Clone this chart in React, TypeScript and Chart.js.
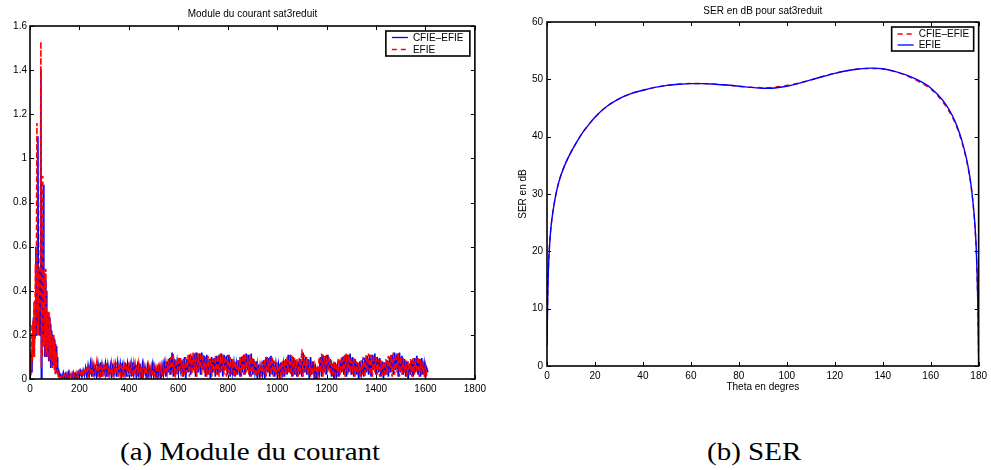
import React, { useEffect, useRef } from "react";
import { Chart, registerables } from "chart.js";

Chart.register(...registerables);

// ---------- Data: Module du courant ----------
const EARLY_STEP = 2; // indices 0..120
const LATE_START = 125;
const LATE_STEP = 5; // indices 125..1610

const cfieEarly = [
  0.02, 0.1, 0.05, 0.13, 0.03, 0.2, 0.1, 0.28, 0.12, 0.25,
  0.18, 0.32, 0.6, 0.2, 0.45, 0.25, 1.1, 0.3, 0.48, 0.2,
  0.5, 0.25, 1.4, 0.0, 0.3, 0.15, 0.5, 0.88, 0.2, 0.45,
  0.1, 0.45, 0.15, 0.4, 0.1, 0.3, 0.12, 0.3, 0.08, 0.28,
  0.1, 0.25, 0.05, 0.22, 0.08, 0.2, 0.06, 0.19, 0.08, 0.18,
  0.05, 0.16, 0.1, 0.15, 0.03, 0.1, 0.02, 0.04, 0.01, 0.03,
  0.02
];
const efieEarly = [
  0.12, 0.03, 0.1, 0.04, 0.25, 0.08, 0.27, 0.15, 0.35, 0.1,
  0.3, 0.52, 0.2, 0.5, 1.16, 0.3, 0.52, 0.2, 0.5, 0.3,
  0.45, 0.6, 1.53, 0.05, 0.35, 0.1, 0.92, 0.3, 0.5, 0.15,
  0.48, 0.1, 0.5, 0.12, 0.31, 0.1, 0.3, 0.15, 0.31, 0.08,
  0.28, 0.1, 0.22, 0.06, 0.2, 0.05, 0.19, 0.08, 0.2, 0.04,
  0.17, 0.02, 0.15, 0.05, 0.12, 0.02, 0.04, 0.01, 0.03, 0.005,
  0.02
];

const cfieLate = [
  0.02, 0.005, 0.03, 0.01, 0.025, 0.0, 0.03, 0.01, 0.02, 0.005, 0.03, 0.01, 0.025, 0.005, 0.03, 0.01, 0.035, 0.01, 0.04, 0.015,
  0.05, 0.01, 0.06, 0.02, 0.07, 0.01, 0.065, 0.02, 0.05, 0.01, 0.07, 0.02, 0.075, 0.01, 0.06, 0.03, 0.07, 0.01, 0.065, 0.02,
  0.06, 0.005, 0.07, 0.02, 0.065, 0.01, 0.075, 0.03, 0.07, 0.01, 0.06, 0.02, 0.075, 0.01, 0.07, 0.03, 0.065, 0.01, 0.075, 0.02,
  0.065, 0.01, 0.06, 0.02, 0.07, 0.0, 0.065, 0.02, 0.055, 0.01, 0.06, 0.02, 0.05, 0.01, 0.065, 0.015, 0.055, 0.01, 0.05, 0.02,
  0.055, 0.0, 0.06, 0.02, 0.07, 0.01, 0.08, 0.03, 0.095, 0.02, 0.12, 0.01, 0.09, 0.03, 0.08, 0.02, 0.095, 0.04, 0.085, 0.01,
  0.1, 0.0, 0.09, 0.03, 0.11, 0.02, 0.105, 0.04, 0.115, 0.01, 0.12, 0.03, 0.115, 0.02, 0.12, 0.04, 0.105, 0.01, 0.11, 0.02,
  0.09, 0.0, 0.1, 0.03, 0.095, 0.01, 0.105, 0.02, 0.11, 0.03, 0.115, 0.01, 0.11, 0.04, 0.105, 0.02, 0.11, 0.01, 0.09, 0.03,
  0.075, 0.01, 0.07, 0.02, 0.085, 0.01, 0.1, 0.03, 0.11, 0.02, 0.115, 0.04, 0.11, 0.01, 0.115, 0.02, 0.09, 0.03, 0.08, 0.0,
  0.065, 0.01, 0.06, 0.02, 0.085, 0.0, 0.1, 0.03, 0.095, 0.01, 0.105, 0.02, 0.085, 0.01, 0.07, 0.02, 0.065, 0.0, 0.075, 0.02,
  0.07, 0.01, 0.09, 0.02, 0.11, 0.03, 0.11, 0.01, 0.1, 0.02, 0.085, 0.01, 0.08, 0.02, 0.09, 0.01, 0.12, 0.03, 0.1, 0.02,
  0.09, 0.0, 0.1, 0.02, 0.08, 0.01, 0.05, 0.0, 0.045, 0.02, 0.1, 0.01, 0.11, 0.03, 0.105, 0.02, 0.11, 0.04, 0.09, 0.01,
  0.07, 0.0, 0.075, 0.02, 0.065, 0.01, 0.085, 0.03, 0.1, 0.02, 0.11, 0.01, 0.11, 0.03, 0.115, 0.02, 0.1, 0.01, 0.09, 0.02,
  0.075, 0.0, 0.08, 0.02, 0.07, 0.01, 0.095, 0.03, 0.105, 0.02, 0.11, 0.01, 0.11, 0.04, 0.115, 0.02, 0.1, 0.03, 0.095, 0.01,
  0.08, 0.0, 0.075, 0.02, 0.085, 0.01, 0.1, 0.03, 0.11, 0.02, 0.12, 0.04, 0.115, 0.01, 0.12, 0.03, 0.105, 0.02, 0.09, 0.01,
  0.08, 0.0, 0.07, 0.02, 0.085, 0.01, 0.095, 0.03, 0.105, 0.02, 0.09, 0.01, 0.095, 0.02, 0.07, 0.01, 0.05, 0.03
];
const efieLate = [
  0.005, 0.025, 0.01, 0.03, 0.005, 0.025, 0.01, 0.03, 0.0, 0.025, 0.01, 0.03, 0.005, 0.03, 0.01, 0.035, 0.015, 0.045, 0.01, 0.05,
  0.02, 0.06, 0.01, 0.065, 0.02, 0.07, 0.01, 0.06, 0.03, 0.075, 0.01, 0.07, 0.02, 0.065, 0.01, 0.07, 0.02, 0.075, 0.01, 0.06,
  0.02, 0.07, 0.01, 0.065, 0.02, 0.075, 0.01, 0.07, 0.02, 0.075, 0.01, 0.065, 0.02, 0.07, 0.01, 0.075, 0.02, 0.07, 0.01, 0.07,
  0.02, 0.065, 0.01, 0.07, 0.02, 0.06, 0.01, 0.065, 0.02, 0.055, 0.01, 0.06, 0.02, 0.055, 0.01, 0.06, 0.02, 0.05, 0.01, 0.055,
  0.02, 0.06, 0.01, 0.065, 0.02, 0.075, 0.03, 0.09, 0.02, 0.1, 0.03, 0.115, 0.01, 0.09, 0.02, 0.1, 0.03, 0.095, 0.01, 0.09,
  0.02, 0.1, 0.03, 0.11, 0.01, 0.115, 0.02, 0.12, 0.03, 0.12, 0.01, 0.115, 0.04, 0.12, 0.02, 0.11, 0.03, 0.1, 0.01, 0.105,
  0.02, 0.095, 0.01, 0.09, 0.03, 0.105, 0.02, 0.11, 0.01, 0.115, 0.03, 0.11, 0.02, 0.105, 0.01, 0.11, 0.03, 0.1, 0.02, 0.09,
  0.01, 0.08, 0.02, 0.085, 0.03, 0.1, 0.01, 0.11, 0.02, 0.115, 0.03, 0.11, 0.02, 0.11, 0.01, 0.1, 0.02, 0.085, 0.01, 0.07,
  0.02, 0.06, 0.01, 0.08, 0.02, 0.09, 0.01, 0.1, 0.03, 0.1, 0.02, 0.1, 0.01, 0.08, 0.02, 0.075, 0.01, 0.07, 0.02, 0.08,
  0.01, 0.085, 0.02, 0.1, 0.03, 0.11, 0.02, 0.105, 0.01, 0.095, 0.02, 0.09, 0.01, 0.1, 0.02, 0.135, 0.01, 0.11, 0.03, 0.1,
  0.02, 0.085, 0.01, 0.075, 0.02, 0.06, 0.01, 0.055, 0.02, 0.1, 0.03, 0.115, 0.01, 0.105, 0.02, 0.11, 0.03, 0.1, 0.02, 0.085,
  0.01, 0.08, 0.02, 0.07, 0.01, 0.09, 0.02, 0.1, 0.03, 0.11, 0.01, 0.115, 0.02, 0.11, 0.03, 0.1, 0.02, 0.095, 0.01, 0.08,
  0.02, 0.075, 0.01, 0.085, 0.02, 0.1, 0.01, 0.11, 0.03, 0.115, 0.02, 0.11, 0.01, 0.11, 0.03, 0.1, 0.02, 0.09, 0.01, 0.085,
  0.02, 0.08, 0.01, 0.09, 0.02, 0.105, 0.03, 0.11, 0.01, 0.12, 0.02, 0.115, 0.03, 0.115, 0.01, 0.1, 0.02, 0.095, 0.03, 0.085,
  0.01, 0.08, 0.02, 0.09, 0.01, 0.1, 0.02, 0.095, 0.03, 0.1, 0.01, 0.09, 0.02, 0.08, 0.01, 0.06, 0.02, 0.035
];

const courantXTicks = [0, 200, 400, 600, 800, 1000, 1200, 1400, 1600, 1800];
const courantYTicks = [0, 0.2, 0.4, 0.6, 0.8, 1, 1.2, 1.4, 1.6];

// ---------- Data: SER ----------
const theta = [0, 0.3, 0.6, 1, 1.5, 2, 3, 4, 5, 6, 8, 10, 12, 15, 18, 20, 25, 30, 35, 40, 45, 50, 55, 60, 65, 70, 75, 80, 85, 90, 95, 100, 105, 110, 115, 120, 125, 130, 135, 140, 145, 150, 155, 160, 163, 166, 169, 171, 173, 175, 176, 177, 178, 178.5, 179, 179.4, 179.7, 180];
const serEfie = [3.5, 12, 17, 20.5, 23.5, 25.5, 28.3, 30.5, 32.2, 33.5, 35.6, 37.3, 38.8, 40.8, 42.4, 43.4, 45.3, 46.6, 47.5, 48.1, 48.6, 48.95, 49.15, 49.25, 49.25, 49.15, 49.0, 48.8, 48.6, 48.45, 48.5, 48.8, 49.3, 49.9, 50.5, 51.05, 51.5, 51.8, 51.95, 51.85, 51.4, 50.75, 49.8, 48.5, 47.3, 45.8, 43.7, 41.8, 39.3, 36.0, 33.8, 31.0, 27.0, 24.3, 20.5, 15.5, 10, 1.5];
const serCfie = [4.5, 12.5, 17.2, 20.6, 23.5, 25.5, 28.3, 30.5, 32.2, 33.5, 35.6, 37.3, 38.8, 40.8, 42.4, 43.4, 45.3, 46.6, 47.5, 48.1, 48.6, 48.95, 49.15, 49.28, 49.25, 49.15, 49.0, 48.8, 48.62, 48.55, 48.65, 48.95, 49.35, 49.9, 50.5, 51.05, 51.5, 51.8, 51.9, 51.8, 51.35, 50.6, 49.6, 48.3, 47.1, 45.5, 43.4, 41.5, 39.0, 35.8, 33.6, 30.8, 26.8, 24.0, 20.2, 15.0, 9.5, 0.5];

const serXTicks = [0, 20, 40, 60, 80, 100, 120, 140, 160, 180];
const serYTicks = [0, 10, 20, 30, 40, 50, 60];

const FONT = "'Liberation Sans', Arial, Helvetica, sans-serif";
const BLUE = "#0000ff";
const RED = "#ff0000";

type LegendItem = { label: string; color: string; dash: number[] };
type LegendBox = { dx: number; dy: number; w: number; h: number; rows: number[] };

function framePlugin(items: LegendItem[], box: LegendBox) {
  return {
    id: "frameLegend",
    afterDatasetsDraw(chart: any) {
      const { ctx, chartArea } = chart;
      const { left, right, top, bottom } = chartArea;
      const sx = chart.scales.x;
      const sy = chart.scales.y;
      const tl = 4;
      ctx.save();
      ctx.strokeStyle = "#000";
      ctx.lineWidth = 1;
      ctx.setLineDash([]);
      ctx.beginPath();
      sx.ticks.forEach((t: any) => {
        const px = Math.round(sx.getPixelForValue(t.value)) + 0.5;
        ctx.moveTo(px, bottom);
        ctx.lineTo(px, bottom - tl);
        ctx.moveTo(px, top);
        ctx.lineTo(px, top + tl);
      });
      sy.ticks.forEach((t: any) => {
        const py = Math.round(sy.getPixelForValue(t.value)) + 0.5;
        ctx.moveTo(left, py);
        ctx.lineTo(left + tl, py);
        ctx.moveTo(right, py);
        ctx.lineTo(right - tl, py);
      });
      ctx.stroke();
      ctx.lineWidth = 1.6;
      ctx.strokeRect(left, top, right - left, bottom - top);
      ctx.restore();
    },
    afterDraw(chart: any) {
      const { ctx, chartArea } = chart;
      const x0 = chartArea.right - box.dx - box.w;
      const y0 = chartArea.top + box.dy;
      ctx.save();
      ctx.fillStyle = "#fff";
      ctx.fillRect(x0, y0, box.w, box.h);
      ctx.strokeStyle = "#000";
      ctx.lineWidth = 1.6;
      ctx.setLineDash([]);
      ctx.strokeRect(x0, y0, box.w, box.h);
      items.forEach((it, i) => {
        const y = y0 + box.rows[i];
        ctx.beginPath();
        ctx.strokeStyle = it.color;
        ctx.lineWidth = 1.3;
        ctx.setLineDash(it.dash);
        ctx.moveTo(x0 + 6, y);
        ctx.lineTo(x0 + 22, y);
        ctx.stroke();
        ctx.setLineDash([]);
        ctx.fillStyle = "#000";
        ctx.font = `10px ${FONT}`;
        ctx.textBaseline = "middle";
        ctx.textAlign = "left";
        ctx.fillText(it.label, x0 + 27, y + 0.5);
      });
      ctx.restore();
    },
  };
}

const fmt = (v: any) => {
  const n = Number(Number(v).toFixed(2));
  return String(n);
};

const tickFont = { family: FONT, size: 10 };
const noGrid = { display: false, drawTicks: false };

function CourantChart() {
  const ref = useRef<HTMLCanvasElement>(null);
  useEffect(() => {
    if (!ref.current) return;
    const cfiePts = [
      ...cfieEarly.map((v, i) => ({ x: i * EARLY_STEP, y: v })),
      ...cfieLate.map((v, i) => ({ x: LATE_START + i * LATE_STEP, y: v })),
    ];
    const efiePts = [
      ...efieEarly.map((v, i) => ({ x: i * EARLY_STEP, y: v })),
      ...efieLate.map((v, i) => ({ x: LATE_START + i * LATE_STEP, y: v })),
    ];
    const chart = new Chart(ref.current, {
      type: "line",
      data: {
        datasets: [
          { label: "CFIE–EFIE", data: cfiePts, borderColor: BLUE, borderWidth: 1.6, pointRadius: 0, tension: 0, order: 1 },
          { label: "EFIE", data: efiePts, borderColor: RED, borderWidth: 1.6, borderDash: [5, 3], pointRadius: 0, tension: 0, order: 0 },
        ],
      },
      options: {
        animation: false,
        responsive: false,
        events: [],
        layout: { padding: { left: 0, right: 12, top: 0, bottom: 0 } },
        scales: {
          x: {
            type: "linear",
            min: 0,
            max: 1800,
            grid: noGrid,
            border: { display: false },
            ticks: { color: "#000", font: tickFont, padding: 4, maxRotation: 0, autoSkip: false, callback: fmt },
            afterBuildTicks: (s: any) => { s.ticks = courantXTicks.map((v) => ({ value: v })); },
            afterFit: (s: any) => { s.height = 21; },
          },
          y: {
            type: "linear",
            min: 0,
            max: 1.6,
            grid: noGrid,
            border: { display: false },
            ticks: { color: "#000", font: tickFont, padding: 3, autoSkip: false, callback: fmt },
            afterBuildTicks: (s: any) => { s.ticks = courantYTicks.map((v) => ({ value: v })); },
            afterFit: (s: any) => { s.width = 30; },
          },
        },
        plugins: {
          legend: { display: false },
          tooltip: { enabled: false },
          title: {
            display: true,
            text: "Module du courant sat3reduit",
            fullSize: false,
            color: "#000",
            font: { family: FONT, size: 10, weight: "normal", lineHeight: 1.2 },
            padding: { top: 8, bottom: 6 },
          },
        },
      } as any,
      plugins: [
        framePlugin(
          [
            { label: "CFIE–EFIE", color: BLUE, dash: [] },
            { label: "EFIE", color: RED, dash: [5, 4] },
          ],
          { dx: 5, dy: 5, w: 84, h: 25, rows: [6.5, 18.5] }
        ),
      ],
    });
    return () => chart.destroy();
  }, []);
  return <canvas ref={ref} width={490} height={400} style={{ position: "absolute", left: 0, top: 0, width: 490, height: 400 }} />;
}

function SerChart() {
  const ref = useRef<HTMLCanvasElement>(null);
  useEffect(() => {
    if (!ref.current) return;
    const cfiePts = theta.map((t, i) => ({ x: t, y: serCfie[i] }));
    const efiePts = theta.map((t, i) => ({ x: t, y: serEfie[i] }));
    const chart = new Chart(ref.current, {
      type: "line",
      data: {
        datasets: [
          { label: "CFIE–EFIE", data: cfiePts, borderColor: RED, borderWidth: 1.4, borderDash: [5, 4], pointRadius: 0, cubicInterpolationMode: "monotone", order: 1 },
          { label: "EFIE", data: efiePts, borderColor: BLUE, borderWidth: 1.4, pointRadius: 0, cubicInterpolationMode: "monotone", order: 0 },
        ],
      },
      options: {
        animation: false,
        responsive: false,
        events: [],
        layout: { padding: { left: 0, right: 8, top: 0, bottom: 0 } },
        scales: {
          x: {
            type: "linear",
            min: 0,
            max: 180,
            grid: noGrid,
            border: { display: false },
            ticks: { color: "#000", font: tickFont, padding: 4, maxRotation: 0, autoSkip: false, callback: fmt },
            title: { display: true, text: "Theta en degres", color: "#000", font: { family: FONT, size: 10, lineHeight: 1.2 }, padding: { top: 0, bottom: 7 } },
            afterBuildTicks: (s: any) => { s.ticks = serXTicks.map((v) => ({ value: v })); },
            afterFit: (s: any) => { s.height = 34; },
          },
          y: {
            type: "linear",
            min: 0,
            max: 60,
            grid: noGrid,
            border: { display: false },
            ticks: { color: "#000", font: tickFont, padding: 4, autoSkip: false, callback: fmt },
            title: { display: true, text: "SER en dB", color: "#000", font: { family: FONT, size: 10, lineHeight: 1.2 }, padding: { top: 22, bottom: 0 } },
            afterBuildTicks: (s: any) => { s.ticks = serYTicks.map((v) => ({ value: v })); },
            afterFit: (s: any) => { s.width = 52; },
          },
        },
        plugins: {
          legend: { display: false },
          tooltip: { enabled: false },
          title: {
            display: true,
            text: "SER en dB pour sat3reduit",
            fullSize: false,
            color: "#000",
            font: { family: FONT, size: 10, weight: "normal", lineHeight: 1.2 },
            padding: { top: 5, bottom: 5 },
          },
        },
      } as any,
      plugins: [
        framePlugin(
          [
            { label: "CFIE–EFIE", color: RED, dash: [5, 4] },
            { label: "EFIE", color: BLUE, dash: [] },
          ],
          { dx: 5, dy: 5, w: 82, h: 24, rows: [7, 18] }
        ),
      ],
    });
    return () => chart.destroy();
  }, []);
  return <canvas ref={ref} width={496} height={400} style={{ position: "absolute", left: 495, top: 0, width: 496, height: 400 }} />;
}

const captionStyle: React.CSSProperties = {
  position: "absolute",
  top: 437,
  fontFamily: "'Liberation Serif', 'Times New Roman', serif",
  fontSize: 25,
  lineHeight: "30px",
  color: "#000",
  whiteSpace: "nowrap",
  transform: "scaleX(1.16)",
  transformOrigin: "left center",
};

export default function App() {
  return (
    <div style={{ position: "absolute", left: 0, top: 0, width: 991, height: 470, background: "#fff", overflow: "hidden" }}>
      <CourantChart />
      <SerChart />
      <div style={{ ...captionStyle, left: 120 }}>(a) Module du courant</div>
      <div style={{ ...captionStyle, left: 707 }}>(b) SER</div>
    </div>
  );
}
